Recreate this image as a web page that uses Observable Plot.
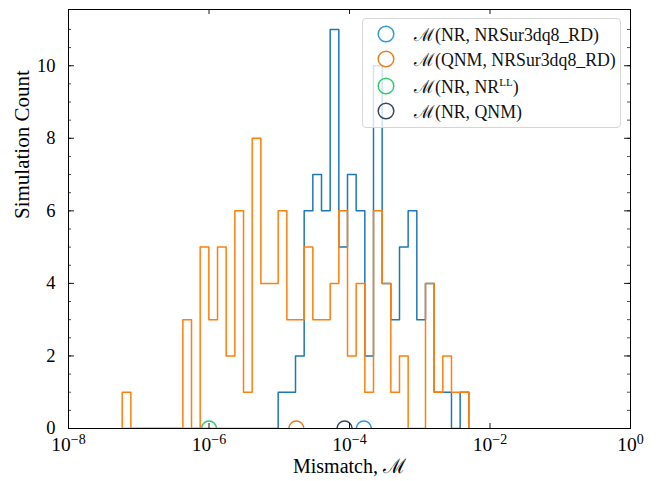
<!DOCTYPE html>
<html>
<head>
<meta charset="utf-8">
<script src="https://cdn.jsdelivr.net/npm/d3@7"></script>
<script src="https://cdn.jsdelivr.net/npm/@observablehq/plot@0.6"></script>
<style>
  body { margin: 0; background: #fff; }
  #chart { position: relative; width: 659px; height: 481px; font-family: "Liberation Serif", "DejaVu Serif", serif; }
  .legend { position: absolute; left: 362px; top: 18px; width: 259px; height: 110px; box-sizing: border-box;
            border: 1px solid #d6d6d6; border-radius: 4px; background: rgba(255,255,255,0.8); }
  .legend .row { position: absolute; left: 0; height: 22px; display: flex; align-items: center; font-size: 17.8px; color: #111; white-space: nowrap; }
  .legend .row svg { margin-left: 14px; margin-right: 19px; }
  .legend sup { font-size: 11px; vertical-align: 7px; line-height: 0; }
</style>
</head>
<body>
<div id="chart"></div>
<script>
// Shared log-spaced bins (exponent of first edge, width in decades, number of bins)
const firstEdgeExp = -7.2356;
const binWidthExp = 0.12335;
const binCount = 40;

// Counts per bin
const nrSurCounts = [0,0,0,0,0,0,0,0,0,0,0,0,0,0,0,0,0,0,
  1,1,2,6,7,6,11,5,7,6,2,10,4,3,5,6,3,4,1,1,0,1];
const qnmSurCounts = [1,0,0,0,0,0,0,3,0,5,3,5,2,6,1,8,4,4,6,3,
  3,5,3,3,4,6,2,4,1,6,4,1,2,0,0,4,1,2,1,1];

// Reference mismatches shown as open circles on the axis
const markerLabels = ["NR, NRSur3dq8_RD", "QNM, NRSur3dq8_RD", "NR, NR^LL", "NR, QNM"];
const markerValues = [1.6e-4, 1.75e-5, 1.0e-6, 8.5e-5];
const markerColors = ["#3498db", "#e67e22", "#2ecc71", "#34495e"];

const histColors = ["#1f77b4", "#ff7f0e"];

// Axis ticks
const xMajorTicks = [1e-8, 1e-6, 1e-4, 1e-2, 1];
const yMajorTicks = [0, 2, 4, 6, 8, 10];
const yMinorTicks = d3.range(0, 11.5, 0.5);
const yMax = 11.55;

const W = 659, H = 481, mL = 68, mR = 29, mT = 9, mB = 53;
const innerW = W - mL - mR, innerH = H - mT - mB;

const edges = d3.range(binCount + 1).map(i => 10 ** (firstEdgeExp + i * binWidthExp));
function stepPoints(counts) {
  const pts = [{x: edges[0], y: 0}];
  counts.forEach((c, i) => pts.push({x: edges[i], y: c}));
  pts.push({x: edges[counts.length], y: 0});
  return pts;
}

const markers = markerValues.map((v, i) => ({value: v, color: markerColors[i], label: markerLabels[i]}));

const plot = Plot.plot({
  width: W, height: H,
  marginLeft: mL, marginRight: mR, marginTop: mT, marginBottom: mB,
  style: {fontFamily: "'Liberation Serif', 'DejaVu Serif', serif", fontSize: "18px", background: "white", color: "black"},
  x: {type: "log", domain: [1e-8, 1], axis: null},
  y: {domain: [0, yMax], axis: null},
  color: {type: "identity"},
  marks: [
    Plot.line(stepPoints(nrSurCounts), {x: "x", y: "y", curve: "step-after", stroke: histColors[0], strokeWidth: 1.5, clip: true}),
    Plot.line(stepPoints(qnmSurCounts), {x: "x", y: "y", curve: "step-after", stroke: histColors[1], strokeWidth: 1.5, clip: true}),
    Plot.dot(markers, {x: "value", y: () => 0, r: 7.5, stroke: "color", fill: "none", strokeWidth: 1.5, clip: true}),
    // inward ticks on all four sides
    Plot.tickX(xMajorTicks, {x: d => d, insetTop: innerH - 5, stroke: "black", strokeWidth: 0.9}),
    Plot.tickX(xMajorTicks, {x: d => d, insetBottom: innerH - 5, stroke: "black", strokeWidth: 0.9}),
    Plot.tickY(yMajorTicks, {y: d => d, insetRight: innerW - 6, stroke: "black", strokeWidth: 0.9}),
    Plot.tickY(yMajorTicks, {y: d => d, insetLeft: innerW - 6, stroke: "black", strokeWidth: 0.9}),
    Plot.tickY(yMinorTicks, {y: d => d, insetRight: innerW - 3, stroke: "black", strokeWidth: 0.7}),
    Plot.tickY(yMinorTicks, {y: d => d, insetLeft: innerW - 3, stroke: "black", strokeWidth: 0.7}),
    Plot.frame({stroke: "black", strokeWidth: 1}),
    Plot.axisX(xMajorTicks, {tickSize: 0, tickPadding: 9, fontSize: 19.5, label: null,
      tickFormat: d => `10^${Math.round(Math.log10(d))}`}),
    Plot.axisY(yMajorTicks, {tickSize: 0, tickPadding: 13, fontSize: 18.5, label: null}),
    Plot.text(["Simulation Count"], {text: d => d, frameAnchor: "left", dx: -46, rotate: -90, fontSize: 21, letterSpacing: "0.8px"}),
    Plot.text(["Mismatch, ℳ"], {text: d => d, frameAnchor: "bottom", dy: 44, fontSize: 20, letterSpacing: "1px"})
  ]
});

// Render exponents of the x tick labels as superscripts
d3.select(plot).selectAll("g[aria-label='x-axis tick label'] text").each(function () {
  const m = /^10\^(-?\d+)$/.exec(this.textContent);
  if (!m) return;
  const t = d3.select(this);
  t.text("10");
  t.append("tspan").attr("dy", "-0.55em").attr("font-size", "14px").text(m[1].replace("-", "−"));
});

const chart = document.getElementById("chart");
chart.appendChild(plot);

// Legend
const legend = document.createElement("div");
legend.className = "legend";
const legendRows = [
  "ℳ(NR, NRSur3dq8_RD)",
  "ℳ(QNM, NRSur3dq8_RD)",
  "ℳ(NR, NR<sup>LL</sup>)",
  "ℳ(NR, QNM)"
];
const rowTops = [4, 29, 56, 81];
legendRows.forEach((html, i) => {
  const row = document.createElement("div");
  row.className = "row";
  row.style.top = rowTops[i] + "px";
  row.innerHTML = `<svg width="18" height="18"><circle cx="9" cy="9" r="7.8" fill="none" stroke="${markerColors[i]}" stroke-width="1.5"/></svg><span>${html}</span>`;
  legend.appendChild(row);
});
chart.appendChild(legend);
</script>
</body>
</html>
